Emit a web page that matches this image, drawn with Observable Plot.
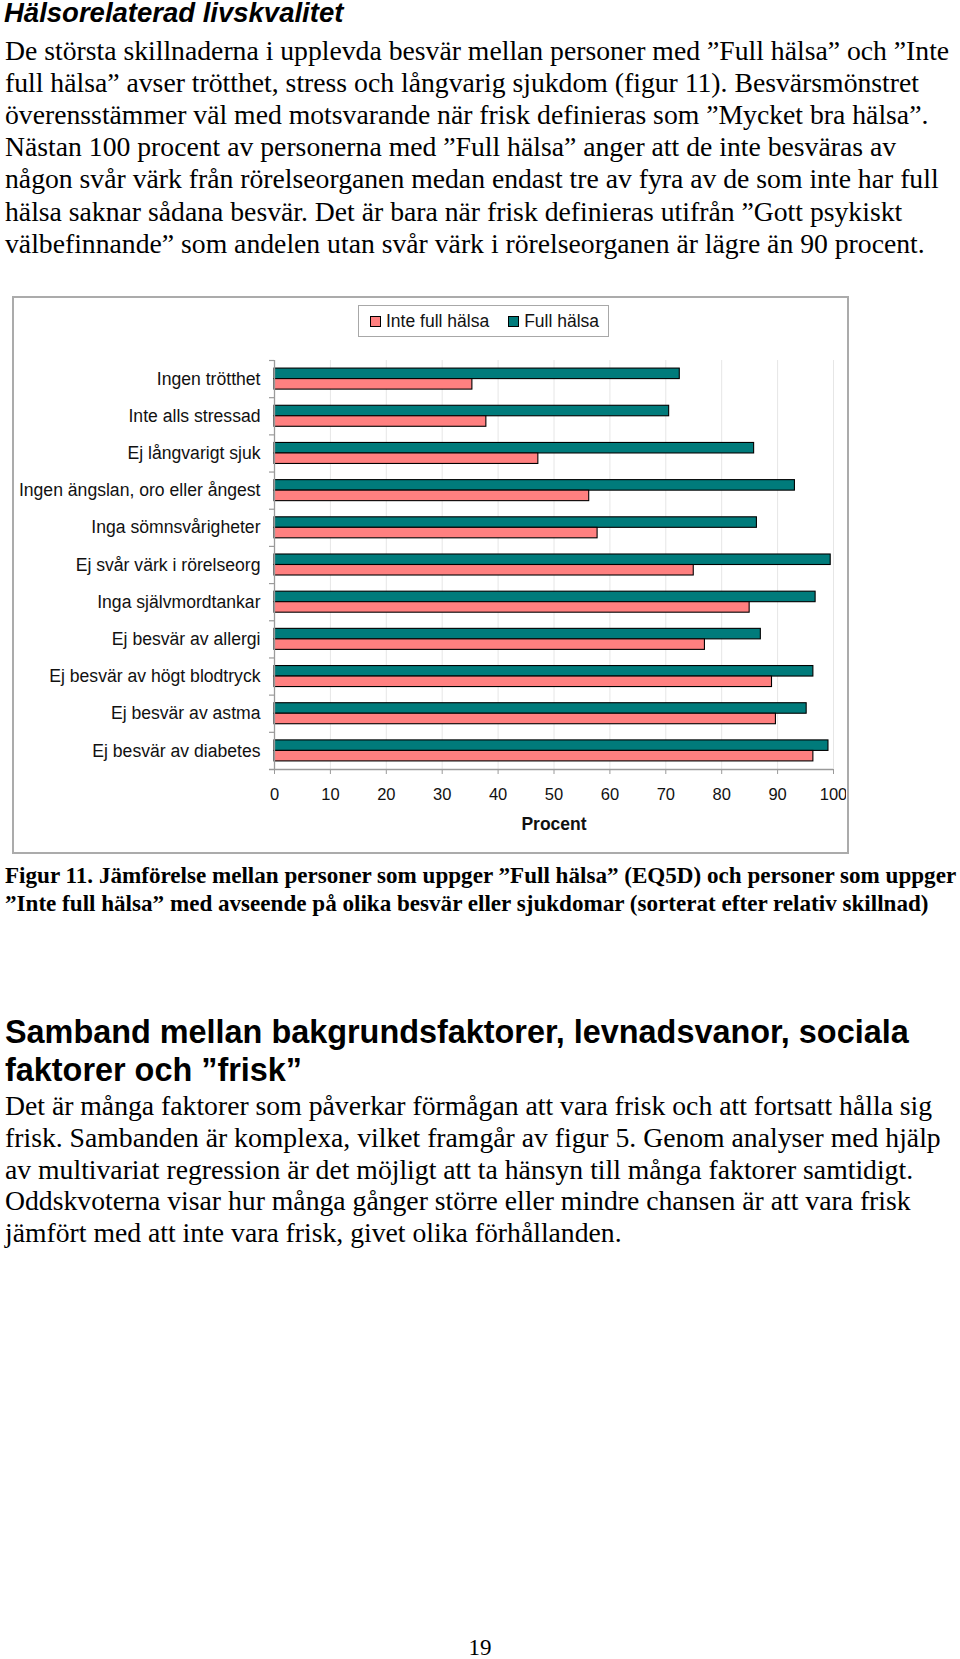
<!DOCTYPE html>
<html>
<head>
<meta charset="utf-8">
<script src="https://cdn.jsdelivr.net/npm/d3@7"></script>
<script src="https://cdn.jsdelivr.net/npm/@observablehq/plot@0.6"></script>
<style>
  html, body { margin: 0; padding: 0; background: #fff; }
  body { width: 960px; height: 1659px; position: relative; overflow: hidden; }
  .ln { position: absolute; white-space: nowrap; color: #000; }
  .serif { font-family: "Liberation Serif", "Times New Roman", serif; }
  .sans { font-family: "Liberation Sans", Arial, sans-serif; }
  #frame { position: absolute; left: 12px; top: 296px; width: 837px; height: 558px;
           border: 2px solid #ababab; box-sizing: border-box; }
  #legend { position: absolute; left: 358px; top: 305px; width: 251px; height: 32px;
            border: 1px solid #a8a8a8; box-sizing: border-box; display: flex; align-items: center;
            font-family: "Liberation Sans", Arial, sans-serif; font-size: 17.5px; color: #111; padding-left: 11px; }
  #legend .sw { width: 9px; height: 9px; border: 1px solid #000; margin-right: 5px; }
  #chart { position: absolute; left: 14px; top: 345px; }
</style>
</head>
<body>
<div id="frame"></div>
<div id="legend"></div>
<div id="chart"></div>
<script>
// ---- chart data ----
const categories = [
  "Ingen trötthet",
  "Inte alls stressad",
  "Ej långvarigt sjuk",
  "Ingen ängslan, oro eller ångest",
  "Inga sömnsvårigheter",
  "Ej svår värk i rörelseorg",
  "Inga självmordtankar",
  "Ej besvär av allergi",
  "Ej besvär av högt blodtryck",
  "Ej besvär av astma",
  "Ej besvär av diabetes"
];
const fullHalsa     = [72.5, 70.6, 85.8, 93.1, 86.3, 99.5, 96.8, 87.0, 96.4, 95.2, 99.1];
const inteFullHalsa = [35.4, 37.9, 47.2, 56.3, 57.8, 75.0, 85.0, 77.0, 89.0, 89.7, 96.4];
const seriesNames  = ["Inte full hälsa", "Full hälsa"];
const seriesColors = ["#ff8080", "#007b7b"];
const xTicks = [0, 10, 20, 30, 40, 50, 60, 70, 80, 90, 100];
const xLabel = "Procent";

// ---- page text ----
const titleText = "Hälsorelaterad livskvalitet";
const para1 = [
  "De största skillnaderna i upplevda besvär mellan personer med ”Full hälsa” och ”Inte",
  "full hälsa” avser trötthet, stress och långvarig sjukdom (figur 11). Besvärsmönstret",
  "överensstämmer väl med motsvarande när frisk definieras som ”Mycket bra hälsa”.",
  "Nästan 100 procent av personerna med ”Full hälsa” anger att de inte besväras av",
  "någon svår värk från rörelseorganen medan endast tre av fyra av de som inte har full",
  "hälsa saknar sådana besvär. Det är bara när frisk definieras utifrån ”Gott psykiskt",
  "välbefinnande” som andelen utan svår värk i rörelseorganen är lägre än 90 procent."
];
const caption = [
  "Figur 11. Jämförelse mellan personer som uppger ”Full hälsa” (EQ5D) och personer som uppger",
  "”Inte full hälsa” med avseende på olika besvär eller sjukdomar (sorterat efter relativ skillnad)"
];
const heading2 = [
  "Samband mellan bakgrundsfaktorer, levnadsvanor, sociala",
  "faktorer och ”frisk”"
];
const para2 = [
  "Det är många faktorer som påverkar förmågan att vara frisk och att fortsatt hålla sig",
  "frisk. Sambanden är komplexa, vilket framgår av figur 5. Genom analyser med hjälp",
  "av multivariat regression är det möjligt att ta hänsyn till många faktorer samtidigt.",
  "Oddskvoterna visar hur många gånger större eller mindre chansen är att vara frisk",
  "jämfört med att inte vara frisk, givet olika förhållanden."
];
const pageNumber = "19";

function addLines(lines, opts) {
  lines.forEach((t, i) => {
    const d = document.createElement("div");
    d.className = "ln " + opts.cls;
    d.textContent = t;
    d.style.fontSize = opts.size + "px";
    d.style.lineHeight = opts.lh + "px";
    d.style.top = (opts.cy0 + i * opts.step - opts.lh / 2) + "px";
    d.style.left = opts.left + "px";
    if (opts.weight) d.style.fontWeight = opts.weight;
    if (opts.italic) d.style.fontStyle = "italic";
    if (opts.center) { d.style.left = "0px"; d.style.width = "960px"; d.style.textAlign = "center"; }
    document.body.appendChild(d);
  });
}

addLines([titleText], {cls: "sans", size: 27.5, lh: 26, cy0: 13, step: 0, left: 4, weight: "bold", italic: true});
addLines(para1, {cls: "serif", size: 27.7, lh: 32, cy0: 51, step: 32.1, left: 5});
addLines(caption, {cls: "serif", size: 23.1, lh: 27, cy0: 875.5, step: 27.5, left: 5, weight: "bold"});
addLines(heading2, {cls: "sans", size: 32.4, lh: 38, cy0: 1032, step: 38, left: 5, weight: "bold"});
addLines(para2, {cls: "serif", size: 27.7, lh: 32, cy0: 1106, step: 31.8, left: 5});
addLines([pageNumber], {cls: "serif", size: 23, lh: 28, cy0: 1648, step: 0, left: 0, center: true});

// ---- legend ----
const legend = document.getElementById("legend");
seriesNames.forEach((name, i) => {
  const sw = document.createElement("span");
  sw.className = "sw";
  sw.style.background = seriesColors[i];
  if (i > 0) sw.style.marginLeft = "19px";
  const tx = document.createElement("span");
  tx.textContent = name;
  legend.appendChild(sw);
  legend.appendChild(tx);
});

// ---- chart ----
const rows = categories.map((c, i) => ({category: c, full: fullHalsa[i], inte: inteFullHalsa[i]}));
const W = 832, H = 505;
const mT = 15, mB = 81, mL = 260, mR = 13;
const step = (H - mT - mB) / categories.length;
const bandFrac = 0.565;
const half = step * bandFrac / 2;
const axisGray = "#9a9a9a";

const chart = Plot.plot({
  width: W,
  height: H,
  marginTop: mT,
  marginBottom: mB,
  marginLeft: mL,
  marginRight: mR,
  style: {fontFamily: "'Liberation Sans', Arial, sans-serif", fontSize: "16.5px", color: "#111", background: "transparent"},
  x: {domain: [0, 100], ticks: xTicks},
  y: {type: "band", domain: categories, paddingInner: 1 - bandFrac, paddingOuter: (1 - bandFrac) / 2, round: false},
  marks: [
    Plot.ruleX(xTicks.slice(1), {stroke: "#e6e6e6", strokeWidth: 1}),
    Plot.barX(rows, {y: "category", x: "full", fill: seriesColors[1], stroke: "#000", strokeWidth: 1.1, insetBottom: half}),
    Plot.barX(rows, {y: "category", x: "inte", fill: seriesColors[0], stroke: "#000", strokeWidth: 1.1, insetTop: half}),
    Plot.ruleX([0], {stroke: axisGray, strokeWidth: 1.3}),
    Plot.ruleY(categories, {y: d => d, x1: -0.9, x2: 0, dy: -step / 2, stroke: axisGray, strokeWidth: 1.2}),
    Plot.ruleY(categories.slice(-1), {y: d => d, x1: -0.9, x2: 100, dy: step / 2, stroke: axisGray, strokeWidth: 1.3}),
    Plot.axisX({ticks: xTicks, tickSize: 5, tickPadding: 14, stroke: axisGray, fill: "#111", label: null, fontSize: 16.5}),
    Plot.axisY({tickSize: 0, tickPadding: 14, label: null, fill: "#111", fontSize: 17.6}),
    Plot.text([xLabel], {frameAnchor: "bottom", dy: 60, fontWeight: "bold", fontSize: 17.5, fill: "#111"})
  ]
});
document.getElementById("chart").appendChild(chart);
</script>
</body>
</html>
